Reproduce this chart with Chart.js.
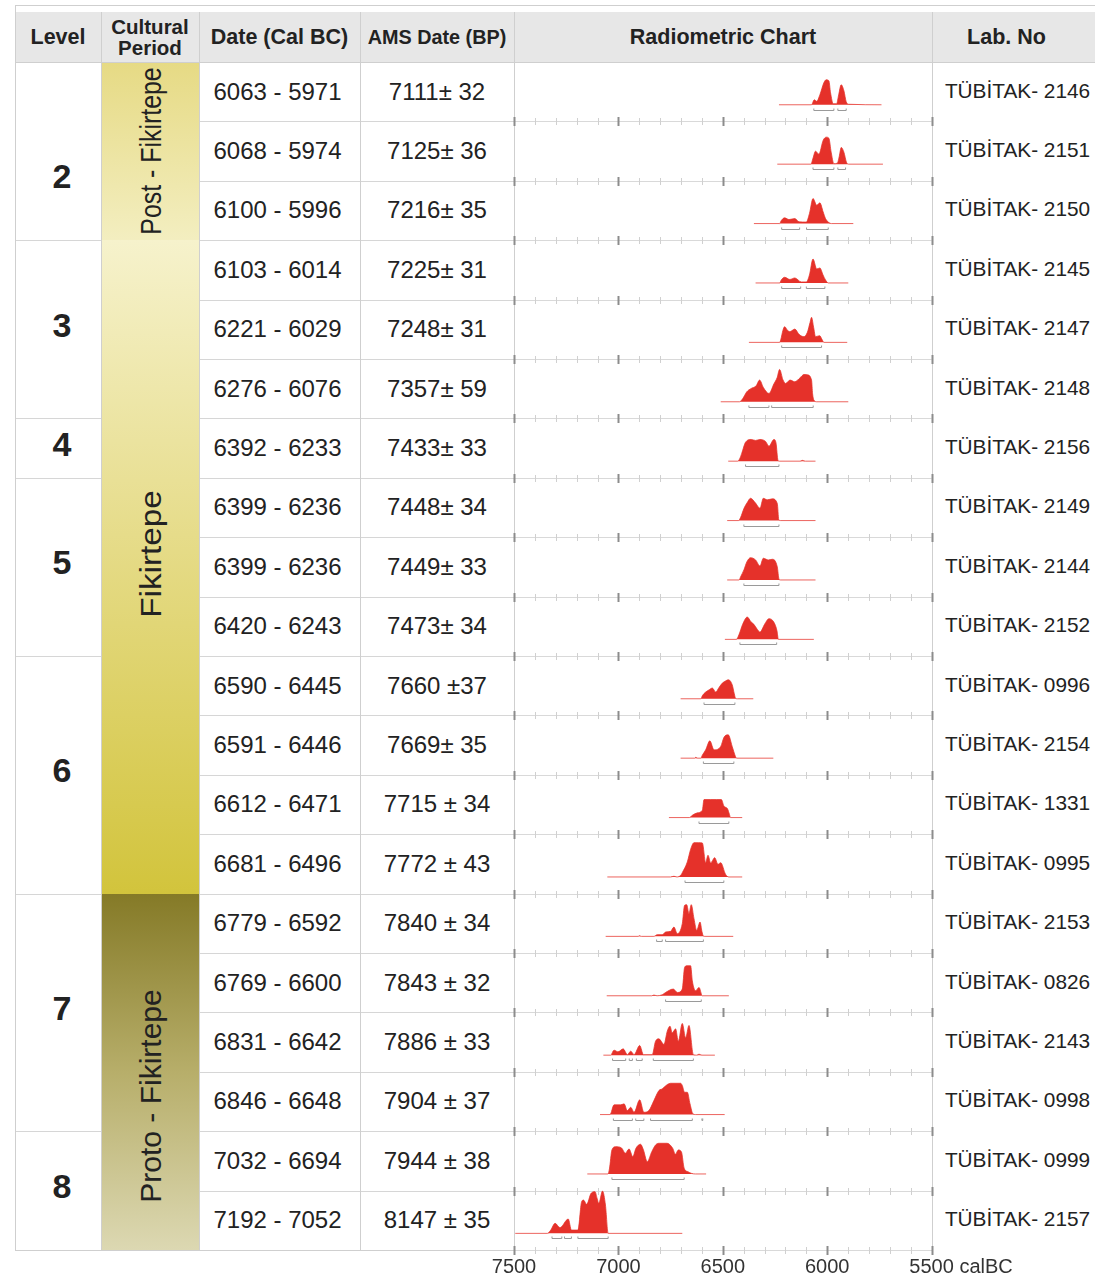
<!DOCTYPE html>
<html>
<head>
<meta charset="utf-8">
<script src="https://cdn.jsdelivr.net/npm/chart.js@4.4.1/dist/chart.umd.min.js"></script>
<style>
  body { margin: 0; background: #fff; font-family: "Liberation Sans", Arial, sans-serif; color: #222; }
  #page { position: relative; width: 1095px; height: 1283px; overflow: hidden; }
  .cell { position: absolute; box-sizing: border-box; display: flex; align-items: center; justify-content: center; text-align: center; white-space: nowrap; }
  .cell span { display: inline-block; }
  .hline { position: absolute; height: 1px; background: #d6d6d6; }
  .vline { position: absolute; width: 1px; background: #cfcfcf; }
  .rot { font-size: 30px; }
  canvas { position: absolute; left: 0; top: 0; }
</style>
</head>
<body>
<div id="page"><canvas id="chart" width="1095" height="1283"></canvas></div>
<script>
// table columns
const levels = ['2','2','2','3','3','3','4','5','5','5','6','6','6','6','7','7','7','7','8','8'];
const periods = ['Post - Fikirtepe','Post - Fikirtepe','Post - Fikirtepe',
  'Fikirtepe','Fikirtepe','Fikirtepe','Fikirtepe','Fikirtepe','Fikirtepe','Fikirtepe','Fikirtepe','Fikirtepe','Fikirtepe','Fikirtepe',
  'Proto - Fikirtepe','Proto - Fikirtepe','Proto - Fikirtepe','Proto - Fikirtepe','Proto - Fikirtepe','Proto - Fikirtepe'];
const calDates = ['6063 - 5971','6068 - 5974','6100 - 5996','6103 - 6014','6221 - 6029','6276 - 6076','6392 - 6233',
  '6399 - 6236','6399 - 6236','6420 - 6243','6590 - 6445','6591 - 6446','6612 - 6471','6681 - 6496','6779 - 6592',
  '6769 - 6600','6831 - 6642','6846 - 6648','7032 - 6694','7192 - 7052'];
const amsDates = ['7111\u00b1 32','7125\u00b1 36','7216\u00b1 35','7225\u00b1 31','7248\u00b1 31','7357\u00b1 59','7433\u00b1 33',
  '7448\u00b1 34','7449\u00b1 33','7473\u00b1 34','7660 \u00b137','7669\u00b1 35','7715 \u00b1 34','7772 \u00b1 43','7840 \u00b1 34',
  '7843 \u00b1 32','7886 \u00b1 33','7904 \u00b1 37','7944 \u00b1 38','8147 \u00b1 35'];
const labNos = ['TÜBİTAK- 2146','TÜBİTAK- 2151','TÜBİTAK- 2150','TÜBİTAK- 2145','TÜBİTAK- 2147','TÜBİTAK- 2148','TÜBİTAK- 2156',
  'TÜBİTAK- 2149','TÜBİTAK- 2144','TÜBİTAK- 2152','TÜBİTAK- 0996','TÜBİTAK- 2154','TÜBİTAK- 1331','TÜBİTAK- 0995','TÜBİTAK- 2153',
  'TÜBİTAK- 0826','TÜBİTAK- 2143','TÜBİTAK- 0998','TÜBİTAK- 0999','TÜBİTAK- 2157'];

// calibrated probability curves [calBC, relative probability]
const prob2146 = [[6231,0],[6075,0],[6062,5],[6050,3.5],[6035,10],[6016,22],[6005,25],[5992,24],[5984,12],[5971,1],[5955,1],[5945,10],[5933,20],[5920,14],[5909,3],[5896,0.5],[5740,0]];
const prob2151 = [[6239,0],[6078,0],[6068,6],[6056,13],[6040,10],[6019,24],[6004,27],[5992,26],[5981,12],[5968,0.5],[5952,1],[5942,8],[5933,16.7],[5920,12],[5908,2],[5898,0],[5733,0]];
const prob2150 = [[6351,0],[6228,0],[6220,3],[6204,5.7],[6183,4],[6155,5],[6135,1.7],[6100,1.5],[6085,10],[6068,25],[6050,18.3],[6035,20.7],[6020,12],[6008,5],[5992,1],[5980,0],[5875,0]];
const prob2145 = [[6343,0],[6228,0],[6220,3],[6204,5.7],[6179,3.5],[6155,5],[6124,1],[6100,1],[6085,8],[6068,24],[6050,14],[6035,15],[6020,8],[6008,3],[5995,0],[5899,0]];
const prob2147 = [[6375,0],[6228,0],[6222,3],[6212,12],[6204,15.7],[6190,12],[6179,10.7],[6155,13.3],[6135,8],[6111,5.7],[6095,10],[6082,20],[6075,25],[6065,15],[6056,5.7],[6036,6.7],[6025,3],[6016,0],[5904,0]];
const prob2148 = [[6510,0],[6420,0],[6405,3],[6385,10],[6364,13.3],[6340,16],[6324,21.7],[6305,14],[6279,8.3],[6255,18],[6240,24],[6228,32.3],[6212,22],[6199,18.3],[6178,21.7],[6155,20],[6130,24],[6111,27.3],[6096,27],[6075,21.7],[6070,8],[6064,1.7],[6050,0],[5899,0]];
const prob2156 = [[6474,0],[6430,0],[6420,2],[6409,8],[6391,19],[6364,21.7],[6343,20.7],[6322,21.7],[6295,19.7],[6279,15],[6255,21.7],[6245,18],[6236,1],[6230,0],[6130,0],[6119,0.8],[6105,0],[6056,0]];
const prob2149 = [[6479,0],[6425,0],[6415,3],[6399,12],[6383,18],[6367,22.3],[6345,18],[6322,12.3],[6306,22.3],[6287,20.7],[6263,21.7],[6239,17],[6232,1],[6225,0],[6056,0]];
const prob2144 = [[6479,0],[6422,0],[6415,3],[6399,10],[6385,18],[6367,22.3],[6343,20],[6322,14],[6306,21.7],[6282,20],[6263,20.7],[6239,13],[6231,1],[6225,0],[6056,0]];
const prob2152 = [[6490,0],[6435,0],[6422,5],[6405,15],[6383,22.3],[6364,17.3],[6351,15],[6335,10],[6322,7.3],[6300,15],[6279,20.7],[6255,17],[6240,8],[6234,0],[6064,0]];
const prob0996 = [[6702,0],[6605,0],[6598,3],[6582,6.7],[6565,9],[6550,10.7],[6534,6.7],[6518,11.3],[6502,15.7],[6485,18],[6474,19],[6455,14],[6445,5],[6439,0.5],[6430,0],[6354,0]];
const prob2154 = [[6702,0],[6635,0],[6630,0.8],[6620,0],[6605,0],[6598,3],[6582,8.3],[6562,17.3],[6542,8.3],[6510,11.7],[6494,21],[6474,23.3],[6455,11.7],[6440,2],[6434,0],[6258,0]];
const prob1331 = [[6758,0],[6660,0],[6646,2.3],[6622,4.7],[6598,7.3],[6590,18],[6560,18],[6530,18],[6507,18],[6494,11.3],[6478,9],[6468,3],[6463,0],[6407,0]];
const prob0995 = [[7053,0],[6750,0],[6734,0.7],[6720,0],[6700,2],[6694,4.3],[6670,15],[6654,27.7],[6638,34.3],[6615,34.3],[6598,34],[6582,14.3],[6571,21.7],[6558,14],[6539,19.3],[6523,12.7],[6510,14.3],[6487,2.7],[6471,0],[6407,0]];
const prob2153 = [[7061,0],[6905,0],[6900,0.7],[6890,0],[6830,0],[6814,1.7],[6790,1.7],[6774,4.3],[6750,5],[6734,9.3],[6718,2.7],[6694,12.7],[6683,31],[6673,31.7],[6662,22.7],[6651,31.7],[6638,17.7],[6625,6],[6609,14.3],[6600,5],[6593,0.3],[6585,0],[6450,0]];
const prob0826 = [[7056,0],[6840,0],[6830,0.7],[6815,0],[6790,1],[6774,3.3],[6737,6.7],[6718,3.3],[6694,6.7],[6683,28.3],[6673,30],[6654,30],[6646,15],[6630,5],[6614,8.3],[6598,0],[6471,0]];
const prob2143 = [[7072,0],[7037,0],[7021,5],[7002,3.3],[6977,6.3],[6957,0.5],[6941,4],[6925,0.5],[6898,9.7],[6880,0.5],[6838,0.5],[6822,14],[6806,16.3],[6782,10.7],[6766,24],[6753,29],[6742,22.3],[6726,26.3],[6713,14],[6694,31.7],[6678,17.3],[6662,29.7],[6641,0.5],[6625,0],[6614,1],[6600,0],[6538,0]];
const prob0998 = [[7088,0],[7040,0],[7021,9.7],[6989,9.7],[6973,10.7],[6957,4],[6941,7.3],[6925,2.3],[6898,14.7],[6878,2.3],[6854,4],[6830,14],[6806,24],[6790,25.7],[6766,30],[6750,31.3],[6702,31.3],[6694,29],[6683,22.3],[6670,22.3],[6657,10.7],[6643,0.7],[6630,0],[6491,0]];
const prob0999 = [[7149,0],[7050,0],[7043,5],[7031,24],[7013,27.3],[6985,26],[6967,20.7],[6949,25],[6931,17.3],[6916,25.7],[6894,29.7],[6880,24],[6862,12.3],[6840,22.3],[6822,29],[6803,30.7],[6767,30.7],[6740,25.7],[6727,19.7],[6713,24],[6698,22],[6685,5.7],[6667,2.3],[6649,0.5],[6630,0],[6580,0]];
const prob2157 = [[7494,0],[7340,0],[7325,3],[7303,10],[7280,5.7],[7240,14.3],[7225,3.3],[7194,3.3],[7176,31.7],[7167,33.3],[7152,29],[7131,40],[7112,41.7],[7102,35],[7094,30],[7076,42.3],[7062,28.3],[7049,0],[6694,0]];

// 2 sigma ranges [from, to] calBC
const range2146 = [[6064,5968],[5949,5909]];
const range2151 = [[6068,5968],[5949,5912]];
const range2150 = [[6218,6132],[6099,5995]];
const range2145 = [[6218,6127],[6100,6011]];
const range2147 = [[6218,6027]];
const range2148 = [[6375,6279],[6266,6067]];
const range2156 = [[6391,6231]];
const range2149 = [[6399,6231]];
const range2144 = [[6399,6231]];
const range2152 = [[6418,6242]];
const range0996 = [[6590,6442]];
const range2154 = [[6593,6447]];
const range1331 = [[6614,6471]];
const range0995 = [[6681,6495]];
const range2153 = [[6817,6790],[6774,6593]];
const range0826 = [[6774,6603]];
const range2143 = [[7028,6965],[6948,6933],[6914,6886],[6833,6641]];
const range0998 = [[7024,6933],[6917,6878],[6846,6646],[6600,6596]];
const range0999 = [[7031,6685]];
const range2157 = [[7318,7271],[7258,7225],[7194,7049]];

const xTicks = [7500, 7000, 6500, 6000, 5500];
const xUnit = 'calBC';

const probs = [prob2146, prob2151, prob2150, prob2145, prob2147, prob2148, prob2156, prob2149, prob2144, prob2152,
  prob0996, prob2154, prob1331, prob0995, prob2153, prob0826, prob2143, prob0998, prob0999, prob2157];
const ranges = [range2146, range2151, range2150, range2145, range2147, range2148, range2156, range2149, range2144, range2152,
  range0996, range2154, range1331, range0995, range2153, range0826, range2143, range0998, range0999, range2157];

// ---- table layout ----
const TOP = 62, ROW_H = 59.4, BOTTOM = TOP + ROW_H * 20;
const COLS = [15, 101, 199, 360, 514, 932, 1095];
const page = document.getElementById('page');
const canvas = document.getElementById('chart');

function el(cls, style, text, spanTransform) {
  const d = document.createElement('div');
  d.className = cls;
  Object.assign(d.style, style);
  if (text !== undefined) {
    const s = document.createElement('span');
    s.innerHTML = text;
    if (spanTransform) s.style.transform = spanTransform;
    d.appendChild(s);
  }
  page.insertBefore(d, canvas);
  return d;
}
function groups(arr) {
  const out = [];
  arr.forEach((v, i) => {
    if (out.length && out[out.length - 1].value === v) out[out.length - 1].count++;
    else out.push({ value: v, start: i, count: 1 });
  });
  return out;
}

// header
el('cell', { left: COLS[0] + 'px', top: '12px', width: (COLS[6] - COLS[0]) + 'px', height: '50px', background: '#e7e7e7' });
const heads = ['Level', 'Cultural<br>Period', 'Date (Cal BC)', 'AMS Date (BP)', 'Radiometric Chart', 'Lab. No'];
const headSize = [21.5, 20.5, 21.5, 19.8, 21.5, 21.5];
const headShift = [0, 0, 0, 0, 0, -7];
heads.forEach((h, c) => {
  el('cell', { left: COLS[c] + 'px', top: '12px', width: (COLS[c + 1] - COLS[c]) + 'px', height: '50px',
    fontWeight: 'bold', fontSize: headSize[c] + 'px', lineHeight: '21px', color: '#222' }, h,
    'translateX(' + headShift[c] + 'px)');
});

// level column
const levelNudge = { '2': 25 };
groups(levels).forEach(g => {
  const t = TOP + g.start * ROW_H, h = g.count * ROW_H;
  el('cell', { left: COLS[0] + 'px', top: t + 'px', width: (COLS[1] - COLS[0]) + 'px', height: h + 'px',
    fontWeight: 'bold', fontSize: '34px' }, g.value, 'translate(4px,' + (levelNudge[g.value] || -4) + 'px)');
  el('hline', { left: COLS[0] + 'px', top: (t + h) + 'px', width: (COLS[1] - COLS[0]) + 'px' });
});

// cultural period column with gradients
const periodFill = {
  'Post - Fikirtepe': 'linear-gradient(#e6da84, #f3eec0)',
  'Fikirtepe': 'linear-gradient(#f6f2cc, #e6dc8a 45%, #d2c43c)',
  'Proto - Fikirtepe': 'linear-gradient(#857a27, #b7ae6a 50%, #dcd8b2)'
};
const periodNudge = { 'Post - Fikirtepe': 0, 'Fikirtepe': -13, 'Proto - Fikirtepe': 24 };
const periodStretch = { 'Post - Fikirtepe': 0.83, 'Fikirtepe': 1.11, 'Proto - Fikirtepe': 1 };
groups(periods).forEach(g => {
  const t = TOP + g.start * ROW_H, h = g.count * ROW_H;
  const c = el('cell', { left: COLS[1] + 'px', top: t + 'px', width: (COLS[2] - COLS[1]) + 'px', height: h + 'px',
    background: periodFill[g.value] }, g.value,
    'translate(1px,' + periodNudge[g.value] + 'px) rotate(-90deg) scaleX(' + periodStretch[g.value] + ')');
  c.firstChild.className = 'rot';
  el('hline', { left: COLS[1] + 'px', top: (t + h) + 'px', width: (COLS[2] - COLS[1]) + 'px' });
});

// per row text
for (let i = 0; i < 20; i++) {
  const t = TOP + i * ROW_H;
  el('cell', { left: (COLS[2] - 2) + 'px', top: t + 'px', width: (COLS[3] - COLS[2]) + 'px', height: ROW_H + 'px', fontSize: '24px' }, calDates[i]);
  el('cell', { left: COLS[3] + 'px', top: t + 'px', width: (COLS[4] - COLS[3]) + 'px', height: ROW_H + 'px', fontSize: '24px' }, amsDates[i]);
  el('cell', { left: (COLS[5] + 4) + 'px', top: t + 'px', width: (COLS[6] - COLS[5]) + 'px', height: ROW_H + 'px', fontSize: '20.8px' }, labNos[i], 'translateY(-1px)');
  el('hline', { left: COLS[2] + 'px', top: (t + ROW_H) + 'px', width: (COLS[4] - COLS[2]) + 'px' });
}

// frame and column borders
el('hline', { left: COLS[0] + 'px', top: '5px', width: (COLS[6] - COLS[0]) + 'px', background: '#cfcfcf' });
el('hline', { left: COLS[0] + 'px', top: TOP + 'px', width: (COLS[6] - COLS[0]) + 'px', background: '#cfcfcf' });
el('hline', { left: COLS[0] + 'px', top: BOTTOM + 'px', width: (COLS[5] - COLS[0]) + 'px', background: '#cfcfcf' });
el('vline', { left: COLS[0] + 'px', top: '5px', height: (BOTTOM - 5) + 'px' });
[1, 2, 3, 4, 5].forEach(c => el('vline', { left: COLS[c] + 'px', top: '12px', height: (BOTTOM - 12) + 'px' }));

// ---- radiometric chart ----
const BASE = 0.72;      // baseline position inside a row (fraction of row from top)
const PER_ROW = 59.4;   // probability units per row height
const RED = '#e5312a';

const datasets = probs.map((p, i) => ({
  label: labNos[i],
  data: p.map(([yr, pr]) => ({ x: yr, y: i + BASE - pr / PER_ROW })),
  fill: { value: i + BASE },
  borderColor: 'rgba(229,49,42,0.75)',
  backgroundColor: RED,
  borderWidth: 1,
  pointRadius: 0,
  cubicInterpolationMode: 'monotone'
}));

const rowAxes = {
  id: 'rowAxes',
  beforeDatasetsDraw(chart) {
    const { ctx, chartArea, scales: { x, y } } = chart;
    ctx.save();
    for (let r = 1; r <= 20; r++) {
      const py = Math.round(y.getPixelForValue(r)) + 0.5;
      ctx.strokeStyle = '#d9d9d9';
      ctx.lineWidth = 1;
      ctx.beginPath(); ctx.moveTo(chartArea.left, py); ctx.lineTo(chartArea.right, py); ctx.stroke();
      for (let yr = 7500; yr >= 5500; yr -= 100) {
        const px = Math.round(x.getPixelForValue(yr)) + 0.5;
        const major = yr % 500 === 0;
        const len = major ? 4.5 : 3.5;
        ctx.strokeStyle = major ? '#8c8c8c' : '#d0d0d0';
        ctx.lineWidth = major ? 2 : 1;
        ctx.beginPath(); ctx.moveTo(px, py - len); ctx.lineTo(px, py + len); ctx.stroke();
      }
    }
    ctx.restore();
  },
  afterDatasetsDraw(chart) {
    const { ctx, scales: { x, y } } = chart;
    ctx.save();
    // sigma ranges under each curve
    ctx.strokeStyle = '#9a9a9a';
    ctx.lineWidth = 1;
    ranges.forEach((rs, i) => {
      const py = Math.round(y.getPixelForValue(i + BASE)) + 5.5;
      rs.forEach(([a, b]) => {
        const x1 = x.getPixelForValue(a), x2 = x.getPixelForValue(b);
        ctx.beginPath();
        ctx.moveTo(x1, py - 2); ctx.lineTo(x1, py); ctx.lineTo(x2, py); ctx.lineTo(x2, py - 2);
        ctx.stroke();
      });
    });
    // bottom axis labels
    ctx.fillStyle = '#333';
    ctx.font = '20px "Liberation Sans", Arial, sans-serif';
    ctx.textBaseline = 'middle';
    const ty = y.getPixelForValue(20) + 17;
    xTicks.forEach((v, k) => {
      const px = x.getPixelForValue(v);
      if (k === xTicks.length - 1) {
        ctx.textAlign = 'left';
        ctx.fillText(v + ' ' + xUnit, px - ctx.measureText(String(v)).width / 2, ty);
      } else {
        ctx.textAlign = 'center';
        ctx.fillText(String(v), px, ty);
      }
    });
    ctx.restore();
  }
};

new Chart(canvas, {
  type: 'line',
  data: { datasets },
  options: {
    responsive: false,
    animation: false,
    layout: { padding: { left: 514, right: 163.4, top: TOP, bottom: 1283 - BOTTOM } },
    plugins: { legend: { display: false }, tooltip: { enabled: false } },
    scales: {
      x: { type: 'linear', min: 5500, max: 7500, reverse: true, display: false },
      y: { type: 'linear', min: 0, max: 20, reverse: true, display: false }
    }
  },
  plugins: [rowAxes]
});
</script>
</body>
</html>
